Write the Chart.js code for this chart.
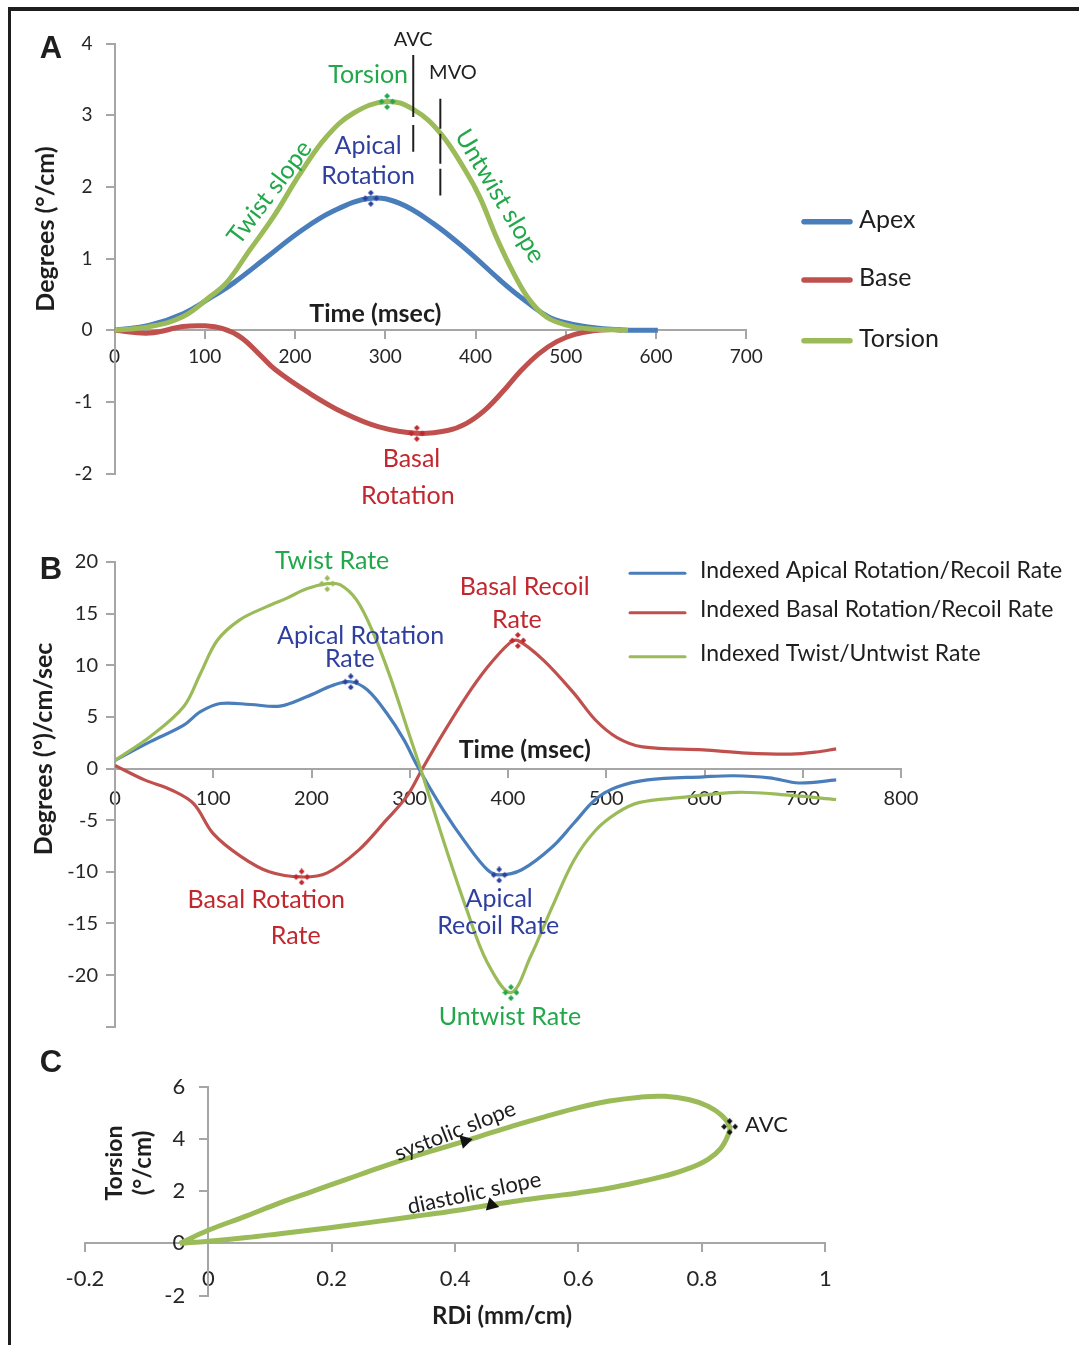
<!DOCTYPE html>
<html>
<head>
<meta charset="utf-8">
<script src="https://cdn.jsdelivr.net/npm/chart.js@4.4.1/dist/chart.umd.min.js"></script>
<style>
  html, body { margin: 0; padding: 0; background: #fff; }
  #page { position: relative; width: 1079px; height: 1345px; overflow: hidden; background: #fff; }
  .frame { position: absolute; left: 8px; top: 7px; right: -10px; bottom: -10px;
           border-top: 4px solid #1e1e1e; border-left: 3px solid #1e1e1e; }
  canvas { position: absolute; left: 0; }
</style>
</head>
<body>
<div id="page">
  <div class="frame"></div>
  <canvas id="panelA" width="1079" height="520" style="top:0px"></canvas>
  <canvas id="panelB" width="1079" height="530" style="top:520px"></canvas>
  <canvas id="panelC" width="1079" height="295" style="top:1050px"></canvas>
</div>
<script>
// ---------- Panel A: rotation / torsion (°/cm) over time (msec) ----------
const timeApex   = [0, 39, 76, 106, 132, 169, 206, 242, 284, 316, 353, 390, 427, 449, 479, 501, 534, 570, 602];
const apex       = [0, 0.07, 0.23, 0.45, 0.66, 1.02, 1.38, 1.66, 1.84, 1.77, 1.49, 1.12, 0.70, 0.47, 0.20, 0.10, 0.03, 0.0, 0];
const timeBase   = [0, 39, 76, 100, 120, 140, 160, 178, 216, 255, 293, 335, 369, 390, 410, 430, 450, 470, 490, 510, 530, 550, 562];
const base       = [0, -0.04, 0.05, 0.06, 0.02, -0.10, -0.33, -0.55, -0.88, -1.16, -1.35, -1.44, -1.40, -1.30, -1.12, -0.86, -0.57, -0.33, -0.16, -0.06, -0.01, 0.01, 0];
const timeTorsion = [0, 39, 76, 106, 124, 150, 176, 206, 235, 265, 302, 331, 361, 390, 405, 423, 442, 460, 479, 501, 525, 569];
const torsion     = [0, 0.05, 0.19, 0.47, 0.66, 1.12, 1.58, 2.19, 2.70, 3.03, 3.19, 3.08, 2.75, 2.20, 1.85, 1.30, 0.80, 0.42, 0.18, 0.07, 0.02, 0];
// peaks: apical rotation, torsion, basal rotation
const peakTimeA  = [284, 302, 335];
const peakValueA = [1.84, 3.19, -1.44];
// aortic valve closure / mitral valve opening markers
const avcTime = [331, 331], avcSpan = [3.84, 2.49];
const mvoTime = [361, 361], mvoSpan = [3.23, 1.88];
const tickA_x = [0, 700, 100];   // min, max, step
const tickA_y = [-2, 4, 1];

// ---------- Panel B: indexed rates (°/cm/sec) over time (msec) ----------
const timeApicalRate = [0, 36, 70, 87, 107, 138, 168, 195, 223, 240, 257, 277, 294, 308, 334, 357, 379, 391, 414, 445, 467, 489, 511, 542, 599, 630, 666, 696, 734];
const apicalRate     = [0.8, 2.6, 4.2, 5.5, 6.3, 6.2, 6.05, 6.95, 8.1, 8.4, 7.6, 5.3, 2.8, 0.2, -4.0, -7.2, -9.8, -10.3, -9.8, -7.6, -5.3, -3.0, -1.8, -1.1, -0.8, -0.7, -0.9, -1.4, -1.1];
const timeBasalRate  = [0, 30, 58, 80, 100, 128, 157, 190, 216, 248, 276, 297, 313, 334, 357, 379, 401, 410, 436, 467, 489, 511, 537, 599, 643, 688, 714, 734];
const basalRate      = [0.3, -1.1, -2.1, -3.4, -6.3, -8.5, -10.0, -10.5, -10.1, -7.9, -5.0, -2.7, 0, 3.4, 6.9, 9.8, 12.1, 12.4, 10.5, 7.3, 4.7, 3.0, 2.1, 1.8, 1.5, 1.4, 1.6, 1.9];
const timeTwistRate  = [0, 36, 70, 87, 104, 127, 155, 175, 195, 216, 229, 246, 263, 280, 297, 311, 334, 357, 379, 403, 423, 445, 467, 489, 511, 533, 577, 634, 688, 734];
const twistRate      = [0.8, 3.1, 6.0, 9.2, 12.4, 14.4, 15.7, 16.5, 17.4, 17.9, 17.8, 16.3, 13.1, 8.9, 4.0, 0, -6.9, -13.4, -18.8, -21.7, -18.2, -13.4, -8.9, -6.0, -4.3, -3.3, -2.8, -2.3, -2.6, -3.0];
// peaks: apical rotation/recoil, basal rotation/recoil, twist/untwist
const peakTimeApicalB  = [240, 391];
const peakValueApicalB = [8.4, -10.3];
const peakTimeBasalB   = [190, 410];
const peakValueBasalB  = [-10.5, 12.4];
const peakTimeTwistB   = [216, 403];
const peakValueTwistB  = [17.9, -21.7];
const tickB_x = [0, 800, 100];
const tickB_y = [-25, 20, 5];

// ---------- Panel C: torsion (°/cm) against RDi (mm/cm), one closed loop ----------
const rdiLoop     = [-0.046, 0, 0.062, 0.116, 0.17, 0.224, 0.278, 0.332, 0.386, 0.44, 0.494, 0.55, 0.60, 0.65, 0.70, 0.74, 0.78, 0.81, 0.832, 0.845,
                     0.842, 0.83, 0.81, 0.78, 0.74, 0.70, 0.651, 0.602, 0.55, 0.494, 0.44, 0.386, 0.33, 0.278, 0.224, 0.17, 0.116, 0.062, 0, -0.046];
const torsionLoop = [0, 0.5, 1.05, 1.55, 2.0, 2.45, 2.9, 3.32, 3.7, 4.1, 4.5, 4.88, 5.2, 5.45, 5.6, 5.63, 5.5, 5.25, 4.9, 4.47,
                     4.12, 3.62, 3.22, 2.88, 2.58, 2.36, 2.12, 1.94, 1.78, 1.6, 1.4, 1.2, 1.02, 0.85, 0.68, 0.52, 0.37, 0.22, 0.08, 0];
const avcRdi = [0.845], avcTorsion = [4.47];
const arrowRdi = [0.416, 0.459], arrowTorsion = [3.92, 1.47];
const tickC_x = [-0.2, 1, 0.2];
const tickC_y = [-2, 6, 2];

// ---------- styling ----------
const BLUE = '#4a7ebb', RED = '#c0504d', GREEN = '#9bbb59';
const TXT_BLUE = '#2f3f9e', TXT_RED = '#c1272d', TXT_GREEN = '#22a84a';
const AXIS = '#a6a6a6', INK = '#1e1e1e', TICK_INK = '#262626';
const FONT = 'Lato';

const pts = (xs, ys) => xs.map((x, i) => ({ x, y: ys[i] }));

// four small diamonds in a diamond arrangement, used as a peak marker
function clusterMarker(color) {
  const c = document.createElement('canvas');
  c.width = 17; c.height = 17;
  const g = c.getContext('2d');
  g.fillStyle = color;
  const d = (cx, cy) => {
    g.beginPath();
    g.moveTo(cx, cy - 2.9); g.lineTo(cx + 2.9, cy); g.lineTo(cx, cy + 2.9); g.lineTo(cx - 2.9, cy);
    g.closePath(); g.fill();
  };
  d(8.5, 3); d(14, 8.5); d(8.5, 14); d(3, 8.5);
  return c;
}

// value labels of the y axis (drawn left of the crossing axis), text labels,
// axis titles and a hand-placed legend
const annotate = {
  id: 'annotate',
  beforeDatasetsDraw(chart, args, opts) {
    const yl = opts.yLabels;
    if (!yl) return;
    const ctx = chart.ctx, sx = chart.scales.x, sy = chart.scales.y;
    const ax = sx.getPixelForValue(yl.at);
    ctx.save();
    ctx.font = yl.font;
    ctx.fillStyle = TICK_INK;
    ctx.textAlign = 'right';
    ctx.textBaseline = 'middle';
    for (const t of sy.ticks) {
      const text = yl.format(t.value);
      if (text) ctx.fillText(text, ax - yl.offset, sy.getPixelForValue(t.value));
    }
    ctx.restore();
  },
  afterDraw(chart, args, opts) {
    const ctx = chart.ctx, sx = chart.scales.x, sy = chart.scales.y;
    ctx.save();
    ctx.textBaseline = 'middle';
    for (const l of (opts.labels || [])) {
      const px = l.px !== undefined ? l.px : sx.getPixelForValue(l.x);
      const py = l.py !== undefined ? l.py : sy.getPixelForValue(l.y);
      ctx.save();
      ctx.translate(px, py);
      if (l.rot) ctx.rotate(l.rot * Math.PI / 180);
      ctx.font = l.font;
      ctx.fillStyle = l.color || INK;
      ctx.textAlign = l.align || 'center';
      ctx.fillText(l.text, 0, 0);
      ctx.restore();
    }
    const lg = opts.legend;
    if (lg) {
      lg.items.forEach((idx, i) => {
        const ds = chart.data.datasets[idx];
        const y = lg.y[i];
        ctx.strokeStyle = ds.borderColor;
        ctx.lineWidth = lg.lineWidth;
        ctx.lineCap = 'round';
        ctx.beginPath();
        ctx.moveTo(lg.x, y);
        ctx.lineTo(lg.x + lg.len, y);
        ctx.stroke();
        ctx.fillStyle = INK;
        ctx.font = lg.font;
        ctx.textAlign = 'left';
        ctx.fillText(ds.label, lg.textX, y + (lg.textDy || 0));
      });
    }
    ctx.restore();
  }
};

function axis(range, pos, size, tickLen, pad, fmt, showLabels) {
  return {
    type: 'linear', min: range[0], max: range[1], position: pos,
    ticks: { display: showLabels, stepSize: range[2], color: TICK_INK, font: { family: FONT, size }, padding: pad,
             autoSkip: false, maxRotation: 0, callback: fmt },
    grid: { drawOnChartArea: false, drawTicks: true, tickLength: tickLen, color: AXIS, lineWidth: 2 },
    border: { color: AXIS, width: 2 }
  };
}

function baseOptions(padding) {
  return {
    responsive: false, animation: false, devicePixelRatio: 1,
    layout: { padding },
    plugins: { legend: { display: false }, tooltip: { enabled: false } },
    elements: { point: { radius: 0, hoverRadius: 0 }, line: { tension: 0.4 } }
  };
}

const plain = v => String(v);

// ---------- Panel A ----------
(function () {
  const opts = baseOptions({ left: 114.5, right: 1079 - 746.3, top: 43.5, bottom: 520 - 473.5 });
  opts.scales = {
    x: axis(tickA_x, { y: 0 }, 19, 8, 7, plain, true),
    y: axis(tickA_y, { x: 0 }, 19, 8, 14, plain, false)
  };
  opts.plugins.annotate = {
    yLabels: { at: 0, offset: 22, font: `19px ${FONT}`, format: plain },
    labels: [
      { text: 'A', px: 51, py: 49, font: 'bold 31px "Liberation Sans", Arial, sans-serif' },
      { text: 'Degrees (°/cm)', px: 46, py: 229, rot: -90, font: `bold 25px ${FONT}` },
      { text: 'Time (msec)', x: 289, y: 0.22, font: `bold 25px ${FONT}` },
      { text: 'AVC', x: 331, y: 4.06, font: `20px ${FONT}` },
      { text: 'MVO', x: 375, y: 3.59, font: `20px ${FONT}` },
      { text: 'Torsion', x: 281, y: 3.56, font: `25px ${FONT}`, color: TXT_GREEN },
      { text: 'Apical', x: 281, y: 2.57, font: `25px ${FONT}`, color: TXT_BLUE },
      { text: 'Rotation', x: 281, y: 2.15, font: `25px ${FONT}`, color: TXT_BLUE },
      { text: 'Twist slope', x: 172, y: 1.92, rot: -53, font: `25px ${FONT}`, color: TXT_GREEN },
      { text: 'Untwist slope', x: 427, y: 1.87, rot: 59, font: `25px ${FONT}`, color: TXT_GREEN },
      { text: 'Basal', x: 329, y: -1.79, font: `25px ${FONT}`, color: TXT_RED },
      { text: 'Rotation', x: 325, y: -2.31, font: `25px ${FONT}`, color: TXT_RED }
    ],
    legend: { items: [0, 1, 2], x: 804, len: 46, y: [221.7, 280, 340.7], lineWidth: 5.5,
              textX: 859, textDy: -2, font: `25px ${FONT}` }
  };
  new Chart(document.getElementById('panelA'), {
    type: 'line',
    data: {
      datasets: [
        { label: 'Apex', data: pts(timeApex, apex), borderColor: BLUE, borderWidth: 5, order: 4 },
        { label: 'Base', data: pts(timeBase, base), borderColor: RED, borderWidth: 5, order: 3 },
        { label: 'Torsion', data: pts(timeTorsion, torsion), borderColor: GREEN, borderWidth: 5, order: 2 },
        { label: 'AVC', data: pts(avcTime, avcSpan), borderColor: INK, borderWidth: 2, borderDash: [62, 8], tension: 0, order: 1 },
        { label: 'MVO', data: pts(mvoTime, mvoSpan), borderColor: INK, borderWidth: 2, borderDash: [30, 5], tension: 0, order: 1 },
        { label: 'peaks', data: pts(peakTimeA, peakValueA), showLine: false, pointRadius: 6,
          pointStyle: [clusterMarker(TXT_BLUE), clusterMarker(TXT_GREEN), clusterMarker(TXT_RED)], order: 0 }
      ]
    },
    options: opts,
    plugins: [annotate]
  });
})();

// ---------- Panel B ----------
(function () {
  const fmtB = v => (v === tickB_y[0] ? '' : String(v));
  const opts = baseOptions({ left: 115, right: 1079 - 901, top: 42, bottom: 530 - 506.7 });
  opts.scales = {
    x: axis(tickB_x, { y: 0 }, 20, 8, 10, plain, true),
    y: axis(tickB_y, { x: 0 }, 20, 8, 9, fmtB, false)
  };
  opts.plugins.annotate = {
    yLabels: { at: 0, offset: 17, font: `20px ${FONT}`, format: fmtB },
    labels: [
      { text: 'B', px: 51, py: 50, font: 'bold 31px "Liberation Sans", Arial, sans-serif' },
      { text: 'Degrees (°)/cm/sec', px: 44, py: 229, rot: -90, font: `bold 25px ${FONT}` },
      { text: 'Time (msec)', x: 417, y: 1.8, font: `bold 25px ${FONT}` },
      { text: 'Twist Rate', x: 221, y: 20.1, font: `25px ${FONT}`, color: TXT_GREEN },
      { text: 'Apical Rotation', x: 250, y: 12.8, font: `25px ${FONT}`, color: TXT_BLUE },
      { text: 'Rate', x: 239, y: 10.6, font: `25px ${FONT}`, color: TXT_BLUE },
      { text: 'Basal Recoil', x: 417, y: 17.6, font: `25px ${FONT}`, color: TXT_RED },
      { text: 'Rate', x: 409, y: 14.4, font: `25px ${FONT}`, color: TXT_RED },
      { text: 'Basal Rotation', x: 154, y: -12.7, font: `25px ${FONT}`, color: TXT_RED },
      { text: 'Rate', x: 184, y: -16.2, font: `25px ${FONT}`, color: TXT_RED },
      { text: 'Apical', x: 391, y: -12.6, font: `25px ${FONT}`, color: TXT_BLUE },
      { text: 'Recoil Rate', x: 390, y: -15.2, font: `25px ${FONT}`, color: TXT_BLUE },
      { text: 'Untwist Rate', x: 402, y: -24.1, font: `25px ${FONT}`, color: TXT_GREEN }
    ],
    legend: { items: [0, 1, 2], x: 630, len: 55, y: [53.3, 92.7, 136.7], lineWidth: 3,
              textX: 700, textDy: -3, font: `23px ${FONT}` }
  };
  new Chart(document.getElementById('panelB'), {
    type: 'line',
    data: {
      datasets: [
        { label: 'Indexed Apical Rotation/Recoil Rate', data: pts(timeApicalRate, apicalRate), borderColor: BLUE, borderWidth: 3.2, tension: 0.35, order: 3 },
        { label: 'Indexed Basal Rotation/Recoil Rate', data: pts(timeBasalRate, basalRate), borderColor: RED, borderWidth: 3.2, tension: 0.35, order: 4 },
        { label: 'Indexed Twist/Untwist Rate', data: pts(timeTwistRate, twistRate), borderColor: GREEN, borderWidth: 3.2, tension: 0.35, order: 2 },
        { label: 'apical peaks', data: pts(peakTimeApicalB, peakValueApicalB), showLine: false, pointRadius: 6, pointStyle: clusterMarker(TXT_BLUE), order: 0 },
        { label: 'basal peaks', data: pts(peakTimeBasalB, peakValueBasalB), showLine: false, pointRadius: 6, pointStyle: clusterMarker(TXT_RED), order: 0 },
        { label: 'twist peaks', data: pts(peakTimeTwistB, peakValueTwistB), showLine: false, pointRadius: 6,
          pointStyle: [clusterMarker(GREEN), clusterMarker(TXT_GREEN)], order: 0 }
      ]
    },
    options: opts,
    plugins: [annotate]
  });
})();

// ---------- Panel C ----------
(function () {
  const opts = baseOptions({ left: 84.9, right: 1079 - 825.3, top: 36.7, bottom: 295 - 245.5 });
  opts.scales = {
    x: axis(tickC_x, { y: 0 }, 22, 8, 14, v => String(Math.round(v * 10) / 10), true),
    y: axis(tickC_y, { x: 0 }, 22, 8, 15, plain, false)
  };
  opts.plugins.annotate = {
    yLabels: { at: 0, offset: 23, font: `22px ${FONT}`, format: plain },
    labels: [
      { text: 'C', px: 51, py: 13, font: 'bold 31px "Liberation Sans", Arial, sans-serif' },
      { text: 'Torsion', px: 115, py: 113, rot: -90, font: `bold 23px ${FONT}` },
      { text: '(°/cm)', px: 143, py: 113, rot: -90, font: `bold 24px ${FONT}` },
      { text: 'RDi (mm/cm)', px: 502, py: 266, font: `bold 24px ${FONT}` },
      { text: 'systolic slope', x: 0.4, y: 4.3, rot: -21.5, font: `22px ${FONT}` },
      { text: 'diastolic slope', x: 0.431, y: 1.92, rot: -12, font: `22px ${FONT}` },
      { text: 'AVC', x: 0.87, y: 4.55, align: 'left', font: `22px ${FONT}` }
    ]
  };
  new Chart(document.getElementById('panelC'), {
    type: 'line',
    data: {
      datasets: [
        { label: 'Torsion vs RDi', data: pts(rdiLoop, torsionLoop), borderColor: GREEN, borderWidth: 5, tension: 0.4, order: 2 },
        { label: 'AVC', data: pts(avcRdi, avcTorsion), showLine: false, pointRadius: 6, pointStyle: clusterMarker('#111'), order: 0 },
        { label: 'direction', data: pts(arrowRdi, arrowTorsion), showLine: false, pointRadius: 8, pointStyle: 'triangle',
          pointRotation: [195, -15], backgroundColor: '#111', borderColor: '#111', pointBorderWidth: 0, order: 0 }
      ]
    },
    options: opts,
    plugins: [annotate]
  });
})();
</script>
</body>
</html>
